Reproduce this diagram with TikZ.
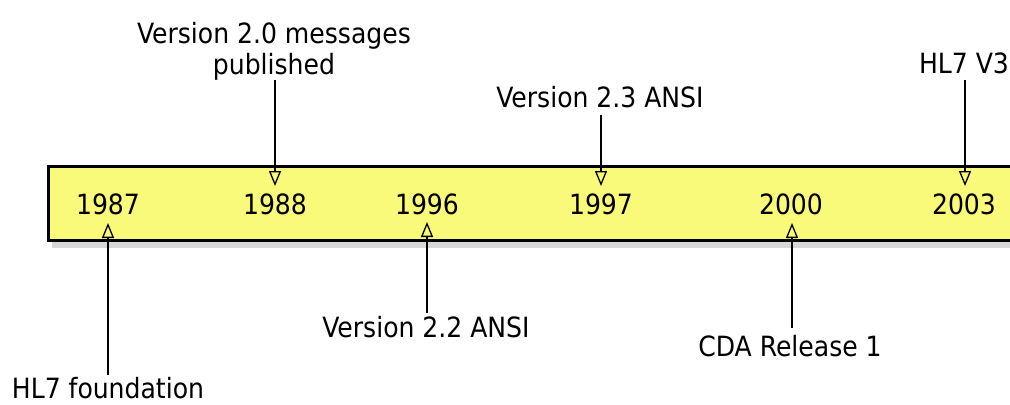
\documentclass[tikz,border=0pt]{standalone}
\usepackage{fontspec}
\setmainfont{DejaVu Sans Condensed}
\usetikzlibrary{arrows.meta}
\definecolor{barfill}{RGB}{250,250,122}
\definecolor{shadowgray}{RGB}{215,215,215}
\begin{document}
\begin{tikzpicture}[x=1bp,y=-1bp,
  lbl/.style={font=\fontsize{28}{31}\selectfont, inner sep=0pt, anchor=base, align=center},
  evt/.style={-{Triangle[open,length=15bp,width=12bp,line width=1.3bp]}, line width=1.3bp},
  bar/.style={draw=black, line width=3bp, fill=barfill},
]
\useasboundingbox (0,0) rectangle (1010,404);
% shadow and bar
\fill[shadowgray] (52,171) rectangle (1020,248);
\draw[bar] (48.5,166.5) rectangle (1025,240.5);

% years
\node[lbl] (y1987) at (108,214) {1987};
\node[lbl] (y1988) at (275,214) {1988};
\node[lbl] (y1996) at (427,214) {1996};
\node[lbl] (y1997) at (601,214) {1997};
\node[lbl] (y2000) at (791,214) {2000};
\node[lbl] (y2003) at (964,214) {2003};

% event labels
\node[lbl] (e1987) at (108,398) {HL7 foundation};
\node[lbl, anchor=north] (e1988) at (274,22) {Version 2.0 messages\\published};
\node[lbl] (e1996) at (426,337) {Version 2.2 ANSI};
\node[lbl] (e1997) at (600,107) {Version 2.3 ANSI};
\node[lbl] (e2000) at (790,356) {CDA Release 1};
\node[lbl] (e2003) at (964,73) {HL7 V3};

% connector ends
\coordinate (s1987) at (108,375); \coordinate (t1987) at (108,223);
\coordinate (s1988) at (275,80);  \coordinate (t1988) at (275,186);
\coordinate (s1996) at (427,313); \coordinate (t1996) at (427,222);
\coordinate (s1997) at (601,115); \coordinate (t1997) at (601,186);
\coordinate (s2000) at (792,328); \coordinate (t2000) at (792,223);
\coordinate (s2003) at (965,80);  \coordinate (t2003) at (965,186);

\draw[evt] (s1987) -- (t1987);
\draw[evt] (s1988) -- (t1988);
\draw[evt] (s1996) -- (t1996);
\draw[evt] (s1997) -- (t1997);
\draw[evt] (s2000) -- (t2000);
\draw[evt] (s2003) -- (t2003);
\end{tikzpicture}
\end{document}
